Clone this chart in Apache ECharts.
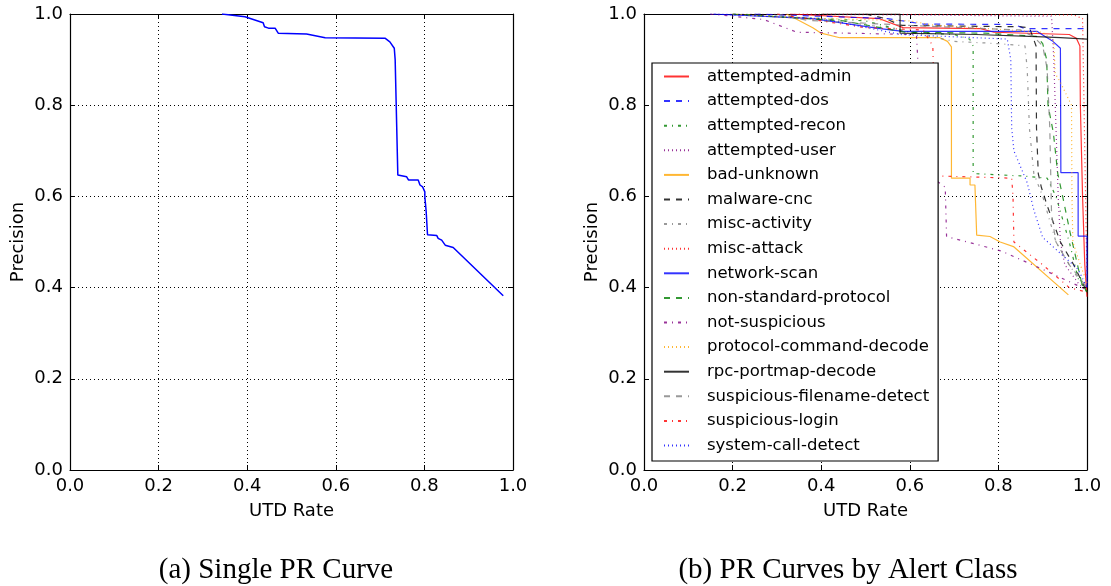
<!DOCTYPE html>
<html>
<head>
<meta charset="utf-8">
<script src="https://cdn.jsdelivr.net/npm/echarts@6/dist/echarts.min.js"></script>
<style>
html,body{margin:0;padding:0;background:#fff;}
#chart{width:1111px;height:586px;}
</style>
</head>
<body>
<div id="chart"></div>
<script>
// ---------- data ----------
const captionA = '(a) Single PR Curve';
const captionB = '(b) PR Curves by Alert Class';
const xName = 'UTD Rate';
const yName = 'Precision';

// left panel: single PR curve [UTD rate, precision]
const singleCurve = [[0.343,1.0],[0.395,0.994],[0.436,0.981],[0.439,0.972],[0.448,0.969],[0.463,0.969],[0.470,0.958],[0.534,0.956],[0.576,0.948],[0.711,0.947],[0.722,0.939],[0.732,0.925],[0.734,0.90],[0.740,0.647],[0.760,0.643],[0.764,0.636],[0.786,0.636],[0.790,0.625],[0.796,0.621],[0.801,0.610],[0.801,0.599],[0.804,0.567],[0.807,0.516],[0.828,0.514],[0.831,0.508],[0.839,0.504],[0.847,0.493],[0.865,0.488],[0.978,0.382]];

// right panel: one curve per alert class
const classNames = ['attempted-admin','attempted-dos','attempted-recon','attempted-user','bad-unknown','malware-cnc','misc-activity','misc-attack','network-scan','non-standard-protocol','not-suspicious','protocol-command-decode','rpc-portmap-decode','suspicious-filename-detect','suspicious-login','system-call-detect'];
const attemptedAdmin = [[0.33,1.0],[0.53,0.99],[0.585,0.97],[0.76,0.968],[0.79,0.96],[0.96,0.955],[0.976,0.947],[0.984,0.93],[0.985,0.80],[0.99,0.6],[0.995,0.45],[1.0,0.38]];
const attemptedDos = [[0.25,1.0],[0.55,0.99],[0.63,0.978],[0.835,0.977],[0.86,0.968],[1.0,0.968]];
const attemptedRecon = [[0.2,1.0],[0.5,0.985],[0.6,0.96],[0.70,0.955],[0.735,0.945],[0.743,0.93],[0.743,0.65],[0.85,0.645],[0.91,0.64],[0.93,0.6],[0.96,0.5],[0.98,0.42],[1.0,0.39]];
const attemptedUser = [[0.15,1.0],[0.6,0.998],[0.92,0.995],[0.925,0.9],[0.93,0.75],[0.935,0.6],[0.94,0.5],[0.95,0.45],[0.98,0.41],[1.0,0.39]];
const badUnknown = [[0.322,1.0],[0.381,0.97],[0.40,0.958],[0.442,0.948],[0.668,0.948],[0.685,0.94],[0.694,0.928],[0.694,0.64],[0.736,0.64],[0.736,0.625],[0.747,0.625],[0.751,0.515],[0.781,0.512],[0.804,0.50],[0.834,0.49],[0.958,0.384]];
const malwareCnc = [[0.5,1.0],[0.545,0.99],[0.58,0.975],[0.85,0.972],[0.87,0.97],[0.885,0.93],[0.886,0.75],[0.89,0.65],[0.897,0.62],[0.91,0.58],[0.94,0.5],[0.97,0.45],[1.0,0.39]];
const miscActivity = [[0.2,1.0],[0.45,0.985],[0.5,0.976],[0.55,0.97],[0.7,0.94],[0.8,0.935],[0.86,0.93],[0.865,0.88],[0.87,0.75],[0.88,0.65],[0.9,0.6],[0.93,0.5],[0.96,0.45],[0.98,0.42],[1.0,0.40]];
const miscAttack = [[0.35,1.0],[0.97,0.998],[0.99,0.99],[0.995,0.7],[1.0,0.42]];
const networkScan = [[0.156,1.0],[0.381,0.99],[0.533,0.968],[0.585,0.962],[0.887,0.962],[0.90,0.954],[0.923,0.94],[0.94,0.925],[0.941,0.652],[0.98,0.652],[0.98,0.513],[1.0,0.513],[1.0,0.40]];
const nonStandardProtocol = [[0.2,1.0],[0.45,0.985],[0.59,0.96],[0.77,0.958],[0.886,0.951],[0.90,0.935],[0.909,0.9],[0.912,0.8],[0.924,0.74],[0.934,0.65],[0.945,0.6],[0.962,0.52],[0.988,0.41],[1.0,0.39]];
const notSuspicious = [[0.15,1.0],[0.27,0.988],[0.345,0.96],[0.457,0.958],[0.615,0.955],[0.618,0.9],[0.62,0.8],[0.625,0.66],[0.68,0.62],[0.683,0.512],[0.75,0.495],[0.807,0.48],[0.9,0.44],[1.0,0.395]];
const protocolCommandDecode = [[0.2,1.0],[0.33,0.992],[0.6,0.985],[0.65,0.976],[0.9,0.96],[0.925,0.94],[0.928,0.87],[0.94,0.85],[0.965,0.8],[0.966,0.6],[0.968,0.5],[0.985,0.45],[1.0,0.41]];
const rpcPortmapDecode = [[0.40,1.0],[0.578,1.0],[0.578,0.958],[0.75,0.955],[0.90,0.95],[0.94,0.948],[1.0,0.945]];
const suspiciousFilenameDetect = [[0.3,1.0],[0.37,0.986],[0.6,0.975],[0.85,0.965],[0.88,0.95],[0.9,0.93],[0.91,0.88],[0.916,0.75],[0.92,0.56],[0.93,0.5],[0.96,0.45],[1.0,0.40]];
const suspiciousLogin = [[0.3,1.0],[0.5,0.97],[0.63,0.965],[0.652,0.93],[0.655,0.8],[0.66,0.645],[0.83,0.64],[0.833,0.6],[0.835,0.5],[0.9,0.45],[0.96,0.40],[1.0,0.39]];
const systemCallDetect = [[0.15,1.0],[0.4,0.99],[0.58,0.955],[0.7,0.95],[0.82,0.945],[0.828,0.9],[0.83,0.75],[0.835,0.7],[0.865,0.63],[0.88,0.57],[0.9,0.51],[0.98,0.44],[1.0,0.40]];

const classData = [attemptedAdmin, attemptedDos, attemptedRecon, attemptedUser, badUnknown, malwareCnc, miscActivity, miscAttack, networkScan, nonStandardProtocol, notSuspicious, protocolCommandDecode, rpcPortmapDecode, suspiciousFilenameDetect, suspiciousLogin, systemCallDetect];

// ---------- styles ----------
const palette = ['#ff0000','#0000ff','#008000','#800080','#ffa500','#000000','#808080'];
const dashes = ['solid',[6,6],[3,5,1,5],[1,3]];
const FONT = 'DejaVu Sans';

const grids = [
  {left:70, top:14, width:443, height:456},
  {left:644, top:14, width:443, height:456}
];

function mkX(gi, pos, labels, name) {
  return {
    type:'value', gridIndex:gi, position:pos, min:0, max:1, interval:0.2,
    axisLine:{show:true, onZero:false, lineStyle:{color:'#000', width:1.2}},
    axisTick:{show:true, inside:true, length:5, lineStyle:{color:'#000', width:1}},
    axisLabel:{show:labels, color:'#000', fontFamily:FONT, fontSize:18, margin:7,
      formatter:v=>v.toFixed(1)},
    splitLine:{show:pos==='bottom', lineStyle:{color:'#000', type:[1,3], width:1}},
    name: name || '', nameLocation:'middle', nameGap:32,
    nameTextStyle:{color:'#000', fontFamily:FONT, fontSize:18}
  };
}
function mkY(gi, pos, labels, name) {
  return {
    type:'value', gridIndex:gi, position:pos, min:0, max:1, interval:0.2,
    axisLine:{show:true, onZero:false, lineStyle:{color:'#000', width:1.2}},
    axisTick:{show:true, inside:true, length:5, lineStyle:{color:'#000', width:1}},
    axisLabel:{show:labels, color:'#000', fontFamily:FONT, fontSize:18, margin:7,
      formatter:v=>v.toFixed(1)},
    splitLine:{show:pos==='left', lineStyle:{color:'#000', type:[1,3], width:1}},
    name: name || '', nameLocation:'middle', nameGap:43,
    nameTextStyle:{color:'#000', fontFamily:FONT, fontSize:18}
  };
}

const series = [{
  name:'single', type:'line', xAxisIndex:0, yAxisIndex:0, data:singleCurve,
  symbol:'none', lineStyle:{color:'#0000ff', width:1.5}, z:3
}];
classNames.forEach((n,i)=>{
  series.push({
    name:n, type:'line', xAxisIndex:2, yAxisIndex:2, data:classData[i],
    symbol:'none', showSymbol:false,
    itemStyle:{color:palette[i%7]},
    lineStyle:{color:palette[i%7], width:1.2, type:dashes[i%4], opacity:0.8},
    z:3
  });
});

const chart = echarts.init(document.getElementById('chart'), null, {renderer:'canvas'});
chart.setOption({
  animation:false,
  backgroundColor:'#fff',
  grid: grids.map(g=>Object.assign({show:false, containLabel:false}, g)),
  xAxis:[mkX(0,'bottom',true,xName), mkX(0,'top',false), mkX(1,'bottom',true,xName), mkX(1,'top',false)],
  yAxis:[mkY(0,'left',true,yName), mkY(0,'right',false), mkY(1,'left',true,yName), mkY(1,'right',false)],
  legend:{
    data:classNames, orient:'vertical', left:652, top:63,
    padding:[5,9,7,11], itemGap:7.6, itemWidth:25, itemHeight:14,
    backgroundColor:'#fff', borderColor:'#000', borderWidth:1.2, borderRadius:0,
    itemStyle:{opacity:0, borderWidth:0},
    textStyle:{color:'#000', fontFamily:FONT, fontSize:16.5, padding:[0,0,0,13]},
    selectedMode:false, z:10
  },
  series: series,
  graphic:[
    {type:'text', x:276, y:570, style:{text:captionA, fontFamily:'Liberation Serif', fontSize:29, fill:'#000', textAlign:'center', textVerticalAlign:'middle'}},
    {type:'text', x:848, y:570, style:{text:captionB, fontFamily:'Liberation Serif', fontSize:29, fill:'#000', textAlign:'center', textVerticalAlign:'middle'}}
  ]
});
</script>
</body>
</html>
